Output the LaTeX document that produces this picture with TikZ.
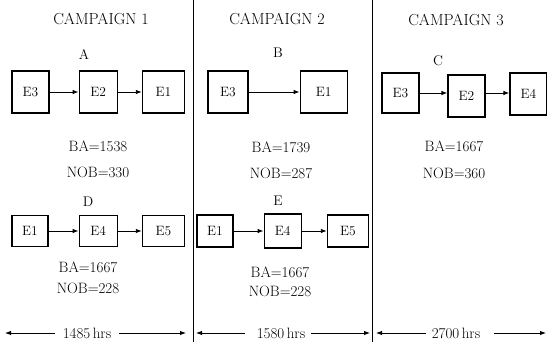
\documentclass[tikz,border=0pt]{standalone}
\usetikzlibrary{arrows.meta, positioning}

\tikzset{
  ebox/.style={draw, line width=1.2pt, minimum width=38pt, minimum height=42pt,
               inner sep=0pt, font=\fontsize{13.5}{15}\selectfont},
  ebox low/.style={ebox, minimum height=31pt},
  flow/.style={-{Latex[length=6pt,width=4.5pt]}, line width=0.9pt},
  span/.style={-{Latex[length=6pt,width=4.5pt]}, line width=0.9pt},
  head/.style={font=\fontsize{16}{18}\selectfont},
  tag/.style={font=\fontsize{14}{16}\selectfont},
  stat/.style={font=\fontsize{15}{17}\selectfont, inner sep=1pt},
  divider/.style={line width=0.9pt},
}

\begin{document}
\begin{tikzpicture}[x=1pt, y=-1pt]
  \useasboundingbox (0,0) rectangle (547,342);

  % campaign columns
  \node[head] (camp1) at (101,19) {CAMPAIGN 1};
  \node[head] (camp2) at (277,19) {CAMPAIGN 2};
  \node[head] (camp3) at (456,20) {CAMPAIGN 3};
  \coordinate (div1top) at (193,0);
  \coordinate (div1bot) at (193,342);
  \coordinate (div2top) at (372,0);
  \coordinate (div2bot) at (372,342);
  \draw[divider] (div1top) -- (div1bot);
  \draw[divider] (div2top) -- (div2bot);

  % sequence A
  \node[tag] (labA) at (84,55) {A};
  \node[ebox, minimum width=37pt] (a3) at (30.5,92) {E3};
  \node[ebox, right=29pt of a3] (a2) {E2};
  \node[ebox, minimum width=42pt, right=24pt of a2] (a1) {E1};
  \draw[flow] (a3) -- (a2);
  \draw[flow] (a2) -- (a1);
  \node[stat] (baA) at (98,146) {BA=1538};
  \node[stat] (nobA) at (98,172) {NOB=330};

  % sequence B
  \node[tag] (labB) at (278,53) {B};
  \node[ebox, minimum width=40pt] (b3) at (228,92) {E3};
  \node[ebox, minimum width=47pt, right=51pt of b3] (b1) {E1};
  \draw[flow] (b3) -- (b1);
  \node[stat] (baB) at (281,147) {BA=1739};
  \node[stat] (nobB) at (281,173) {NOB=287};

  % sequence C
  \node[tag] (labC) at (438,61) {C};
  \node[ebox, minimum width=37pt, minimum height=40pt] (c3) at (400.5,93) {E3};
  \node[ebox, minimum width=37pt] (c2) at (466.5,96) {E2};
  \node[ebox, minimum width=37pt] (c4) at (528.5,94) {E4};
  \draw[flow] (c3.east |- 0,93) -- (c2.west |- 0,93);
  \draw[flow] (c2.east |- 0,93) -- (c4.west |- 0,93);
  \node[stat] (baC) at (454,146) {BA=1667};
  \node[stat] (nobC) at (454,173) {NOB=360};

  % sequence D
  \node[tag] (labD) at (88,202) {D};
  \node[ebox low, minimum width=36pt] (d1) at (30,231) {E1};
  \node[ebox low, right=30pt of d1] (d4) {E4};
  \node[ebox low, minimum width=42pt, right=24pt of d4] (d5) {E5};
  \draw[flow] (d1) -- (d4);
  \draw[flow] (d4) -- (d5);
  \node[stat] (baD) at (88,267) {BA=1667};
  \node[stat] (nobD) at (88,288) {NOB=228};

  % sequence E
  \node[tag] (labE) at (278,201) {E};
  \node[ebox low, minimum width=36pt, minimum height=32pt] (e1) at (215,231) {E1};
  \node[ebox low, minimum width=37pt, minimum height=34pt, right=30pt of e1] (e4) {E4};
  \node[ebox low, minimum width=41pt, minimum height=32pt, right=25pt of e4] (e5) {E5};
  \draw[flow] (e1) -- (e4);
  \draw[flow] (e4) -- (e5);
  \node[stat] (baE) at (280,272) {BA=1667};
  \node[stat] (nobE) at (280,291) {NOB=228};

  % campaign durations
  \node[stat] (dur1) at (87,333) {1485\,hrs};
  \node[stat] (dur2) at (281,333) {1580\,hrs};
  \node[stat] (dur3) at (456,333) {2700\,hrs};
  \coordinate (dur1l) at (5,333);
  \coordinate (dur1r) at (186,333);
  \coordinate (dur2l) at (196,333);
  \coordinate (dur2r) at (370,333);
  \coordinate (dur3l) at (376,333);
  \coordinate (dur3r) at (546,333);
  \draw[span] ([xshift=-7pt]dur1.west) -- (dur1l);
  \draw[span] ([xshift=7pt]dur1.east) -- (dur1r);
  \draw[span] ([xshift=-11pt]dur2.west) -- (dur2l);
  \draw[span] ([xshift=5pt]dur2.east) -- (dur2r);
  \draw[span] ([xshift=-5pt]dur3.west) -- (dur3l);
  \draw[span] ([xshift=13pt]dur3.east) -- (dur3r);
\end{tikzpicture}
\end{document}
